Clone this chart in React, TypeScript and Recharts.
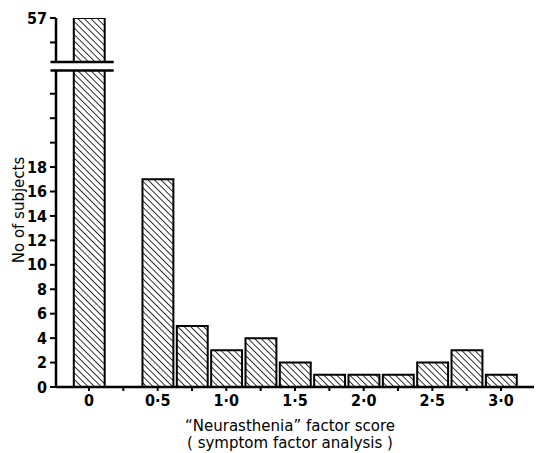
import { Bar, BarChart, ReferenceArea, ReferenceLine, XAxis, YAxis } from "recharts";

// histogram bins (centre of each 0.25-wide class) and counts
const binCentres = [0, 0.5, 0.75, 1.0, 1.25, 1.5, 1.75, 2.0, 2.25, 2.5, 2.75, 3.0];
const subjects = [57, 17, 5, 3, 4, 2, 1, 1, 1, 2, 3, 1];

const xTicks = [0, 0.25, 0.5, 0.75, 1.0, 1.25, 1.5, 1.75, 2.0, 2.25, 2.5, 2.75, 3.0];
const xTickLabels = ["0", "", "0·5", "", "1·0", "", "1·5", "", "2·0", "", "2·5", "", "3·0"];

const yTicks = [0, 2, 4, 6, 8, 10, 12, 14, 16, 18, 20, 22, 24, 55, 57];
const yTickLabels = ["0", "2", "4", "6", "8", "10", "12", "14", "16", "18", "", "", "", "", "57"];

// broken y axis: values between BREAK_LOW and BREAK_HIGH are cut out
const BREAK_LOW = 25.9;
const BREAK_HIGH = 53.4;
const GAP = 0.7;
const toAxis = (v: number) => (v >= BREAK_HIGH ? v - (BREAK_HIGH - BREAK_LOW) + GAP : v);
const GAP_TOP = BREAK_LOW + GAP;

const W = 538;
const H = 453;
const margin = { top: 18, right: 4, bottom: 36, left: 0 };
const yAxisWidth = 56;
const xDomain: [number, number] = [-0.24, 3.24];
const yDomain: [number, number] = [0, toAxis(57)];
const plotW = W - margin.left - margin.right - yAxisWidth;
const barPx = (plotW * 0.25) / (xDomain[1] - xDomain[0]);

const data = binCentres.map((score, i) => ({
  score,
  n: subjects[i],
  plotted: toAxis(subjects[i]),
}));

const tickFont = "'Liberation Sans Narrow', 'DejaVu Sans Condensed', 'Liberation Sans', sans-serif";
const titleFont = "'DejaVu Sans', 'Liberation Sans', sans-serif";

export default function App() {
  return (
    <div style={{ position: "absolute", left: 0, top: 0, background: "#fff" }}>
      <BarChart width={W} height={H} data={data} margin={margin} barCategoryGap={0} barGap={0}>
        <defs>
          <pattern
            id="hatch"
            patternUnits="userSpaceOnUse"
            width={4.6}
            height={4.6}
            patternTransform="rotate(-45)"
          >
            <rect width={4.6} height={4.6} fill="#fff" />
            <line x1={0} y1={0} x2={0} y2={4.6} stroke="#000" strokeWidth={1.6} />
          </pattern>
        </defs>
        <XAxis
          type="number"
          dataKey="score"
          domain={xDomain}
          ticks={xTicks}
          allowDataOverflow
          tickFormatter={(v: number) => xTickLabels[xTicks.indexOf(v)] ?? ""}
          axisLine={{ stroke: "#000", strokeWidth: 2.5 }}
          tickLine={{ stroke: "#000", strokeWidth: 2 }}
          tickSize={4}
          tickMargin={4}
          tick={{ fill: "#000", fontSize: 16, fontWeight: "bold", fontFamily: tickFont }}
        />
        <YAxis
          type="number"
          domain={yDomain}
          width={yAxisWidth}
          ticks={yTicks.map(toAxis)}
          allowDataOverflow
          tickFormatter={(v: number) => {
            const i = yTicks.map(toAxis).findIndex((t) => Math.abs(t - v) < 1e-6);
            return i >= 0 ? yTickLabels[i] : "";
          }}
          axisLine={false}
          tickLine={{ stroke: "#000", strokeWidth: 2 }}
          tickSize={6}
          tickMargin={3}
          tick={{ fill: "#000", fontSize: 16, fontWeight: "bold", fontFamily: tickFont }}
        />
        <Bar
          dataKey="plotted"
          fill="url(#hatch)"
          stroke="#000"
          strokeWidth={2}
          barSize={barPx}
          isAnimationActive={false}
        />
        {/* axis break */}
        <ReferenceArea
          x1={-0.3}
          x2={0.2}
          y1={BREAK_LOW}
          y2={GAP_TOP}
          fill="#fff"
          fillOpacity={1}
          stroke="none"
          ifOverflow="visible"
          zIndex={900}
        />
        <ReferenceLine
          segment={[{ x: xDomain[0], y: 0 }, { x: xDomain[0], y: BREAK_LOW }]}
          stroke="#000"
          strokeWidth={2.5}
          ifOverflow="visible"
        />
        <ReferenceLine
          segment={[{ x: xDomain[0], y: GAP_TOP }, { x: xDomain[0], y: yDomain[1] }]}
          stroke="#000"
          strokeWidth={2.5}
          ifOverflow="visible"
        />
        <ReferenceLine
          segment={[{ x: -0.28, y: BREAK_LOW }, { x: 0.18, y: BREAK_LOW }]}
          stroke="#000"
          strokeWidth={2.5}
          ifOverflow="visible"
          zIndex={950}
        />
        <ReferenceLine
          segment={[{ x: -0.28, y: GAP_TOP }, { x: 0.18, y: GAP_TOP }]}
          stroke="#000"
          strokeWidth={2.5}
          ifOverflow="visible"
          zIndex={950}
        />
        <text x={290} y={431} textAnchor="middle" fontSize={15} fontFamily={titleFont} fill="#000">
          “Neurasthenia” factor score
        </text>
        <text x={290} y={448} textAnchor="middle" fontSize={15} fontFamily={titleFont} fill="#000">
          ( symptom factor analysis )
        </text>
        <text
          x={24}
          y={210}
          transform="rotate(-90 24 210)"
          textAnchor="middle"
          fontSize={15}
          fontFamily={titleFont}
          fill="#000"
        >
          No of subjects
        </text>
      </BarChart>
    </div>
  );
}
